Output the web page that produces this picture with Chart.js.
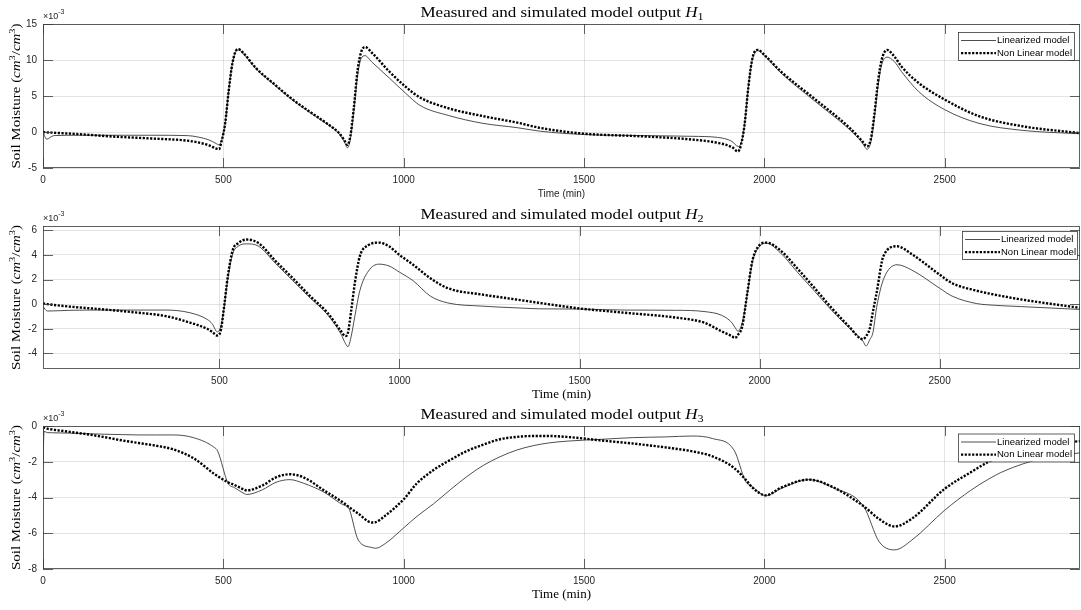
<!DOCTYPE html>
<html>
<head>
<meta charset="utf-8">
<script src="https://cdn.jsdelivr.net/npm/chart.js@4.4.1/dist/chart.umd.min.js"></script>
<style>
  html, body { margin: 0; padding: 0; background: #fff; }
  body { width: 1081px; height: 610px; position: relative; overflow: hidden; }
  canvas { position: absolute; left: 0; }
</style>
</head>
<body>
<canvas id="h1" width="1081" height="200" style="top:0px"></canvas>
<canvas id="h2" width="1081" height="200" style="top:202px"></canvas>
<canvas id="h3" width="1081" height="208" style="top:402px"></canvas>
<script>
// values are in units of 1e-3 cm3/cm3, time in minutes
const seriesNames = ['Linearized model', 'Non Linear model'];
const xTicks = [0, 500, 1000, 1500, 2000, 2500];

const h1Time = [0, 10, 30, 100, 200, 300, 400, 430, 460, 480, 488, 495, 505, 515, 525, 535, 542, 555, 590, 640, 690, 740, 790, 820, 835, 844, 852, 862, 872, 882, 893, 912, 960, 1005, 1045, 1124, 1220, 1315, 1380, 1500, 1660, 1800, 1870, 1910, 1927, 1935, 1945, 1955, 1965, 1975, 1982, 2000, 2046, 2142, 2237, 2270, 2285, 2295, 2305, 2315, 2325, 2340, 2360, 2380, 2428, 2500, 2595, 2715, 2875];
const h1Linear = [0, -1.0, -0.5, -0.45, -0.45, -0.45, -0.5, -0.7, -1.1, -1.6, -1.8, -1.2, 1.2, 5.8, 9.5, 11.2, 11.4, 10.9, 8.8, 6.6, 4.5, 2.7, 1.0, -0.2, -1.3, -2.2, -1.0, 3.0, 7.8, 10.2, 10.6, 9.7, 7.5, 5.4, 3.7, 2.3, 1.2, 0.6, 0.1, -0.35, -0.5, -0.6, -0.75, -1.3, -2.0, -1.6, 1.0, 6.0, 9.7, 11.1, 11.3, 10.6, 8.2, 4.2, 0.3, -1.4, -2.4, -1.4, 2.0, 6.3, 9.3, 10.4, 9.8, 8.4, 5.6, 3.1, 1.2, 0.23, -0.25];
const h1NonLinear = [0, -0.05, -0.1, -0.3, -0.65, -0.9, -1.2, -1.45, -1.85, -2.3, -2.4, -1.3, 1.2, 5.8, 9.5, 11.3, 11.5, 11.0, 8.9, 6.7, 4.6, 2.8, 1.1, -0.1, -1.1, -1.8, -0.6, 3.5, 8.5, 11.1, 11.8, 11.0, 8.4, 6.3, 4.8, 3.3, 2.2, 1.3, 0.55, -0.23, -0.6, -1.05, -1.5, -2.1, -2.7, -1.8, 1.0, 6.0, 9.8, 11.3, 11.4, 10.7, 8.4, 4.5, 0.55, -1.2, -2.0, -1.0, 2.5, 7.0, 10.0, 11.4, 10.5, 9.1, 6.8, 4.5, 2.2, 0.8, -0.15];
const h1YTicks = [-5, 0, 5, 10, 15];

const h2Time = [10, 22, 84, 179, 275, 351, 418, 466, 480, 494, 504, 513, 523, 537, 552, 575, 609, 656, 704, 752, 800, 838, 850, 857, 866, 876, 890, 914, 943, 971, 1000, 1038, 1086, 1134, 1229, 1324, 1389, 1500, 1626, 1770, 1846, 1894, 1923, 1932, 1940, 1952, 1966, 1980, 2000, 2019, 2057, 2105, 2153, 2200, 2248, 2287, 2296, 2306, 2315, 2325, 2344, 2382, 2421, 2500, 2535, 2602, 2631, 2727, 2890];
const h2Linear = [-0.2, -0.56, -0.5, -0.48, -0.48, -0.48, -0.7, -1.24, -1.6, -2.25, -1.8, -0.3, 2.0, 4.1, 4.7, 4.9, 4.7, 3.3, 1.9, 0.5, -0.85, -2.45, -3.2, -3.45, -2.6, -1.0, 1.1, 2.7, 3.25, 3.1, 2.6, 1.9, 0.65, 0.1, -0.16, -0.3, -0.38, -0.4, -0.48, -0.5, -0.6, -0.9, -1.5, -1.9, -2.2, -1.5, 0.8, 3.4, 4.7, 4.95, 4.2, 2.6, 1.05, -0.5, -1.9, -3.0, -3.4, -2.9, -2.3, -0.3, 2.0, 3.2, 2.8, 1.3, 0.65, 0.05, -0.05, -0.2, -0.43];
const h2NonLinear = [0.05, 0.0, -0.2, -0.43, -0.7, -0.97, -1.5, -2.0, -2.25, -2.55, -2.1, -0.2, 2.2, 4.4, 4.95, 5.25, 4.95, 3.5, 2.1, 0.65, -0.7, -2.2, -2.6, -2.3, -0.5, 1.7, 3.9, 4.8, 5.0, 4.7, 4.0, 3.2, 2.1, 1.3, 0.78, 0.38, 0.1, -0.35, -0.7, -1.1, -1.5, -2.2, -2.6, -2.75, -2.5, -1.8, 0.9, 3.5, 4.8, 5.0, 4.4, 2.9, 1.3, -0.3, -1.8, -2.85, -2.6, -2.0, -0.6, 0.9, 3.9, 4.7, 4.1, 2.4, 1.7, 1.1, 0.9, 0.38, -0.3];
const h2YTicks = [-4, -2, 0, 2, 4, 6];

const h3Time = [0, 3, 12, 27, 74, 122, 170, 217, 265, 312, 360, 417, 475, 484, 513, 531, 551, 565, 608, 646, 684, 722, 779, 836, 846, 874, 912, 922, 950, 1000, 1037, 1083, 1129, 1175, 1221, 1267, 1313, 1359, 1405, 1451, 1500, 1543, 1635, 1727, 1801, 1856, 1916, 1948, 1967, 2004, 2046, 2123, 2190, 2276, 2318, 2361, 2409, 2500, 2572, 2619, 2667, 2763, 2875];
const h3Linear = [-2.2, -0.3, -0.37, -0.38, -0.4, -0.43, -0.46, -0.48, -0.5, -0.5, -0.5, -0.65, -1.2, -1.39, -3.2, -3.45, -3.7, -3.83, -3.57, -3.15, -3.0, -3.2, -3.7, -4.44, -4.53, -6.38, -6.8, -6.84, -6.56, -5.7, -5.05, -4.35, -3.57, -2.83, -2.2, -1.72, -1.35, -1.1, -0.94, -0.85, -0.79, -0.75, -0.65, -0.61, -0.56, -0.7, -1.35, -3.1, -3.4, -3.9, -3.5, -3.0, -3.45, -4.53, -6.47, -6.93, -6.38, -4.71, -3.6, -3.0, -2.5, -1.85, -1.5];
const h3NonLinear = [-0.1, -0.1, -0.15, -0.2, -0.33, -0.46, -0.62, -0.8, -0.95, -1.1, -1.3, -1.8, -2.68, -2.8, -3.15, -3.3, -3.5, -3.6, -3.33, -2.87, -2.7, -2.87, -3.6, -4.34, -4.5, -4.9, -5.4, -5.38, -5.0, -4.1, -3.2, -2.46, -1.9, -1.4, -1.04, -0.74, -0.61, -0.56, -0.56, -0.61, -0.7, -0.8, -0.98, -1.2, -1.42, -1.7, -2.35, -3.0, -3.45, -3.88, -3.45, -3.0, -3.42, -4.5, -5.2, -5.62, -5.18, -3.51, -2.59, -2.03, -1.6, -1.05, -0.85];
const h3YTicks = [-8, -6, -4, -2, 0];

const SANS = '"Liberation Sans", Arial, sans-serif';
const SERIF = '"Liberation Serif", "Times New Roman", serif';
const INK = '#262626';

// draws a row of text pieces centred on (x, y), squeezed to a given width
function richText(ctx, parts, x, y, width, angle) {
  let total = 0;
  parts.forEach(p => { ctx.font = p.font; p.w = ctx.measureText(p.t).width; total += p.w; });
  const k = width ? width / total : 1;
  ctx.save();
  ctx.translate(x, y);
  if (angle) ctx.rotate(angle);
  ctx.scale(k, 1);
  ctx.textAlign = 'left';
  ctx.textBaseline = 'alphabetic';
  let cx = -total / 2;
  parts.forEach(p => { ctx.font = p.font; ctx.fillText(p.t, cx, p.dy || 0); cx += p.w; });
  ctx.restore();
}

const matlabLook = {
  id: 'matlabLook',
  afterDraw(chart, args, o) {
    const ctx = chart.ctx;
    const a = chart.chartArea;
    const xs = chart.scales.x, ys = chart.scales.y;
    ctx.save();
    ctx.fillStyle = '#000';

    // title
    richText(ctx, [
      { t: 'Measured and simulated model output ', font: `14px ${SERIF}` },
      { t: 'H', font: `italic 14px ${SERIF}` },
      { t: o.sub, font: `10px ${SERIF}`, dy: 3 }
    ], 562, a.top - 7, 283);

    // y label
    richText(ctx, [
      { t: 'Soil Moisture (', font: `13px ${SERIF}` },
      { t: 'cm', font: `italic 13px ${SERIF}` },
      { t: '3', font: `9px ${SERIF}`, dy: -5 },
      { t: '/', font: `13px ${SERIF}` },
      { t: 'cm', font: `italic 13px ${SERIF}` },
      { t: '3', font: `9px ${SERIF}`, dy: -5 },
      { t: ')', font: `13px ${SERIF}` }
    ], 20, (a.top + a.bottom) / 2, 145, -Math.PI / 2);

    // x label
    ctx.fillStyle = o.serifTime ? '#000' : INK;
    ctx.textAlign = 'center';
    ctx.textBaseline = 'alphabetic';
    ctx.font = o.serifTime ? `13px ${SERIF}` : `10px ${SANS}`;
    ctx.fillText('Time (min)', (a.left + a.right) / 2, a.bottom + 29);

    // exponent
    ctx.fillStyle = INK;
    ctx.textAlign = 'left';
    ctx.font = `9px ${SANS}`;
    ctx.fillText('\u00d710', a.left, a.top - 5);
    const w10 = ctx.measureText('\u00d710').width;
    ctx.font = `7px ${SANS}`;
    ctx.fillText('-3', a.left + w10, a.top - 10);

    // box and inward ticks
    ctx.strokeStyle = '#3a3a3a';
    ctx.lineWidth = 0.8;
    ctx.strokeRect(a.left + 0.5, a.top + 0.5, a.right - a.left - 1, a.bottom - a.top - 1);
    ctx.beginPath();
    xs.ticks.forEach(tk => {
      const px = Math.round(xs.getPixelForValue(tk.value)) + 0.5;
      ctx.moveTo(px, a.bottom); ctx.lineTo(px, a.bottom - 10);
      ctx.moveTo(px, a.top); ctx.lineTo(px, a.top + 10);
    });
    ys.ticks.forEach(tk => {
      const py = Math.round(ys.getPixelForValue(tk.value)) + 0.5;
      ctx.moveTo(a.left, py); ctx.lineTo(a.left + 10, py);
      ctx.moveTo(a.right, py); ctx.lineTo(a.right - 10, py);
    });
    ctx.stroke();

    // legend
    const lx = o.legendLeft, ly = a.top + o.legendTop, lw = o.legendWidth, lh = 28;
    ctx.fillStyle = '#fff';
    ctx.fillRect(lx, ly, lw, lh);
    ctx.strokeStyle = '#3a3a3a';
    ctx.lineWidth = 0.8;
    ctx.strokeRect(lx + 0.5, ly + 0.5, lw, lh);
    chart.data.datasets.forEach((ds, i) => {
      const ry = ly + 8.5 + i * 12.6;
      ctx.save();
      ctx.strokeStyle = ds.borderColor;
      ctx.lineWidth = ds.borderWidth;
      ctx.setLineDash(ds.borderDash || []);
      ctx.beginPath();
      ctx.moveTo(lx + 3, ry); ctx.lineTo(lx + 38, ry);
      ctx.stroke();
      ctx.restore();
      ctx.fillStyle = '#000';
      ctx.font = `9.5px ${SANS}`;
      ctx.textBaseline = 'middle';
      ctx.fillText(ds.label, lx + 39, ry);
    });
    ctx.restore();
  }
};

function makePanel(id, time, lin, nonlin, yTicks, opt) {
  const tickFont = { family: SANS, size: 10 };
  new Chart(document.getElementById(id), {
    type: 'line',
    data: {
      datasets: [
        { label: seriesNames[0], data: time.map((t, i) => ({ x: t, y: lin[i] })),
          borderColor: '#222', borderWidth: 0.8, order: 1 },
        { label: seriesNames[1], data: time.map((t, i) => ({ x: t, y: nonlin[i] })),
          borderColor: '#000', borderWidth: 2.4, borderDash: [2.2, 1.5], order: 0 }
      ]
    },
    options: {
      responsive: false,
      animation: false,
      devicePixelRatio: 1,
      layout: { padding: { top: 24, right: 1, left: 0, bottom: 0 } },
      elements: { point: { radius: 0 }, line: { cubicInterpolationMode: 'monotone' } },
      plugins: {
        legend: { display: false },
        tooltip: { enabled: false },
        matlabLook: opt
      },
      scales: {
        x: {
          type: 'linear', min: opt.xMin, max: opt.xMax,
          afterBuildTicks: s => { s.ticks = xTicks.filter(v => v >= opt.xMin && v <= opt.xMax).map(v => ({ value: v })); },
          afterFit: s => { s.height = opt.xHeight; },
          grid: { color: 'rgba(38,38,38,0.13)', drawTicks: false },
          border: { display: false },
          ticks: { padding: 6, color: INK, font: tickFont, maxRotation: 0, autoSkip: false, callback: v => String(v) }
        },
        y: {
          min: opt.yMin, max: opt.yMax,
          afterBuildTicks: s => { s.ticks = yTicks.map(v => ({ value: v })); },
          afterFit: s => { s.width = 43; },
          grid: { color: 'rgba(38,38,38,0.13)', drawTicks: false },
          border: { display: false },
          ticks: { padding: 6, color: INK, font: tickFont, autoSkip: false, callback: v => String(v) }
        }
      }
    },
    plugins: [matlabLook]
  });
}

makePanel('h1', h1Time, h1Linear, h1NonLinear, h1YTicks,
  { sub: '1', serifTime: false, xMin: 0, xMax: 2875, yMin: -5, yMax: 15, xHeight: 32,
    legendLeft: 958, legendTop: 8, legendWidth: 116 });
makePanel('h2', h2Time, h2Linear, h2NonLinear, h2YTicks,
  { sub: '2', serifTime: true, xMin: 10, xMax: 2890, yMin: -5.27, yMax: 6.35, xHeight: 33,
    legendLeft: 962, legendTop: 5, legendWidth: 115 });
makePanel('h3', h3Time, h3Linear, h3NonLinear, h3YTicks,
  { sub: '3', serifTime: true, xMin: 0, xMax: 2875, yMin: -8, yMax: 0, xHeight: 41,
    legendLeft: 958, legendTop: 7.5, legendWidth: 116 });
</script>
</body>
</html>
